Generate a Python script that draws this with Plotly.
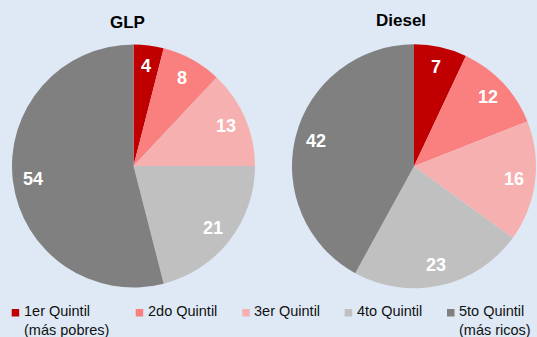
import math
import plotly.graph_objects as go

# Quintile categories
quintiles = ["1er Quintil", "2do Quintil", "3er Quintil", "4to Quintil", "5to Quintil"]
quintile_notes = ["(más pobres)", "", "", "", "(más ricos)"]

# Share of subsidy by quintile (%)
glp_values = [4, 8, 13, 21, 54]
diesel_values = [7, 12, 16, 23, 42]

# Chart titles
titles = ["GLP", "Diesel"]

colors = ["#C00000", "#FA7F7F", "#F7B0B0", "#C0C0C0", "#808080"]
bg = "#DEE9F5"
FONT = "Liberation Sans, Arial, sans-serif"

W, H = 537, 337

# pie geometry in pixels (centre x, centre y from top, radius)
pies = [
    (glp_values, titles[0], 133.5, 166.0, 121.5, (127.5, 22.5)),
    (diesel_values, titles[1], 414.0, 166.3, 122.0, (401.0, 20.0)),
]


def px(x):
    return x / W


def py(y):
    return 1 - y / H


fig = go.Figure()

for values, title, cx, cy, r, (tx, ty) in pies:
    fig.add_trace(go.Pie(
        values=values,
        labels=quintiles,
        name=title,
        sort=False,
        direction="clockwise",
        rotation=0,
        marker=dict(colors=colors, line=dict(width=0)),
        textinfo="none",
        hoverinfo="label+value",
        showlegend=False,
        domain=dict(x=[px(cx - r), px(cx + r)], y=[py(cy + r), py(cy - r)]),
    ))

    # value labels placed at the middle angle of each slice
    total = sum(values)
    cum = 0
    for v in values:
        theta = 2 * math.pi * (cum + v / 2) / total
        cum += v
        lx = cx + 0.83 * r * math.sin(theta)
        ly = cy - 0.83 * r * math.cos(theta)
        fig.add_annotation(
            x=px(lx), y=py(ly), xref="paper", yref="paper",
            text=f"<b>{v}</b>", showarrow=False,
            xanchor="center", yanchor="middle",
            font=dict(family=FONT, size=18, color="white"),
        )

    fig.add_annotation(
        x=px(tx), y=py(ty), xref="paper", yref="paper",
        text=f"<b>{title}</b>", showarrow=False,
        xanchor="center", yanchor="middle",
        font=dict(family=FONT, size=17, color="black"),
    )

# legend row: coloured square + label (with optional note line) for each quintile
legend_x = [11.7, 135.7, 242.3, 344.7, 447.0]
for name, note, color, lx0 in zip(quintiles, quintile_notes, colors, legend_x):
    fig.add_shape(
        type="rect", xref="paper", yref="paper",
        x0=px(lx0), x1=px(lx0 + 7.5), y0=py(316.5), y1=py(309),
        fillcolor=color, line=dict(width=0),
    )
    text = f"{name}<br>{note}" if note else name
    fig.add_annotation(
        x=px(lx0 + 11), y=py(301.5), xref="paper", yref="paper",
        text=text, showarrow=False, align="left",
        xanchor="left", yanchor="top",
        font=dict(family=FONT, size=14.5, color="#111111"),
        borderpad=0,
    )

fig.update_layout(
    width=W, height=H,
    margin=dict(l=0, r=0, t=0, b=0),
    paper_bgcolor=bg,
    plot_bgcolor=bg,
    showlegend=False,
)

fig.write_html("out.html")
